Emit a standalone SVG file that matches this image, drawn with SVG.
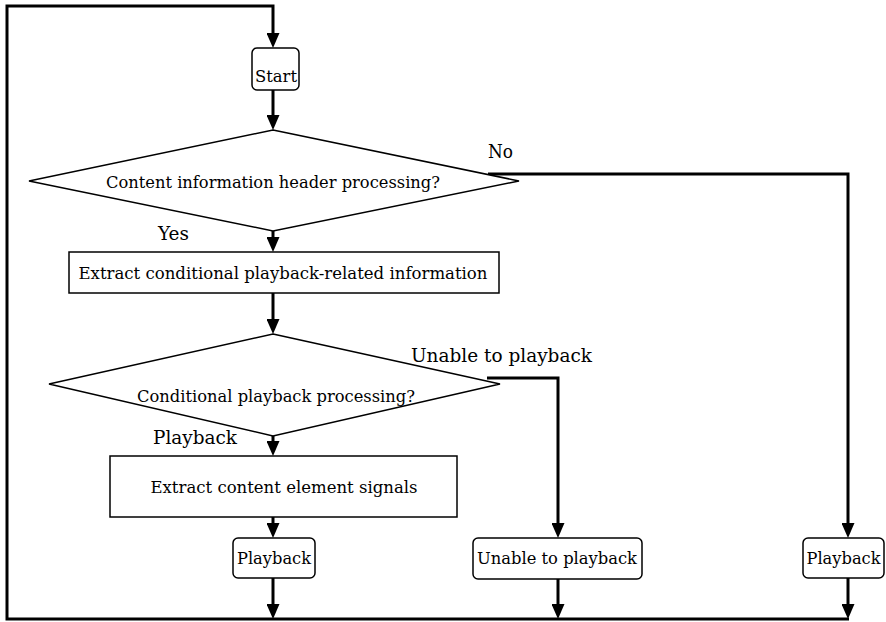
<svg xmlns="http://www.w3.org/2000/svg" width="886" height="622" viewBox="0 0 886 622">
<style>
.shape{fill:#fff;stroke:#000;stroke-width:1.5}
.conn{fill:none;stroke:#000;stroke-width:3}
.t{font-family:"DejaVu Serif","Liberation Serif",serif;font-size:17.5px;fill:#000;text-anchor:middle}
.lbl{font-family:"DejaVu Serif","Liberation Serif",serif;font-size:18.5px;fill:#000}
</style>
<defs>
<marker id="ah" viewBox="0 0 15 13" refX="5" refY="6.5" markerWidth="15" markerHeight="13" markerUnits="userSpaceOnUse" orient="auto">
<path d="M0,0 L15,6.5 L0,13 z" fill="#000"/>
</marker>
</defs>
<rect width="886" height="622" fill="#fff"/>
<g id="connectors">
<path class="conn" d="M849,619 L7,619 L7,6 L273,6 L273,38" marker-end="url(#ah)"/>
<path class="conn" d="M273,90 L273,120" marker-end="url(#ah)"/>
<path class="conn" d="M273,231 L273,242" marker-end="url(#ah)"/>
<path class="conn" d="M273,293 L273,324" marker-end="url(#ah)"/>
<path class="conn" d="M273,436 L273,446" marker-end="url(#ah)"/>
<path class="conn" d="M273,517 L273,528" marker-end="url(#ah)"/>
<path class="conn" d="M488,174 L848,174 L848,528" marker-end="url(#ah)"/>
<path class="conn" d="M487,378 L558,378 L558,528" marker-end="url(#ah)"/>
<path class="conn" d="M273,578 L273,609" marker-end="url(#ah)"/>
<path class="conn" d="M558,579 L558,609" marker-end="url(#ah)"/>
<path class="conn" d="M848,578 L848,609" marker-end="url(#ah)"/>
<text class="lbl" x="488" y="158" textLength="25" lengthAdjust="spacingAndGlyphs">No</text>
<text class="lbl" x="158" y="240" textLength="31" lengthAdjust="spacingAndGlyphs">Yes</text>
<text class="lbl" x="411" y="362" textLength="181" lengthAdjust="spacingAndGlyphs">Unable to playback</text>
<text class="lbl" x="153" y="444" textLength="84" lengthAdjust="spacingAndGlyphs">Playback</text>
</g>
<g id="start">
<rect class="shape" x="252" y="48" width="47" height="42" rx="5"/>
<text class="t" x="276" y="82" textLength="42" lengthAdjust="spacingAndGlyphs">Start</text>
</g>
<g id="decision1">
<polygon class="shape" points="273,130 519,181 273,231 29,181"/>
<text class="t" x="273" y="188" textLength="334" lengthAdjust="spacingAndGlyphs">Content information header processing?</text>
</g>
<g id="extract-info">
<rect class="shape" x="69" y="252" width="430" height="41"/>
<text class="t" x="283" y="279" textLength="409" lengthAdjust="spacingAndGlyphs">Extract conditional playback-related information</text>
</g>
<g id="decision2">
<polygon class="shape" points="273,334 500,384 273,436 49,384"/>
<text class="t" x="276" y="402" textLength="278" lengthAdjust="spacingAndGlyphs">Conditional playback processing?</text>
</g>
<g id="extract-signals">
<rect class="shape" x="110" y="456" width="347" height="61"/>
<text class="t" x="284" y="493" textLength="267" lengthAdjust="spacingAndGlyphs">Extract content element signals</text>
</g>
<g id="playback1">
<rect class="shape" x="233" y="538" width="82" height="40" rx="5"/>
<text class="t" x="274" y="564" textLength="74" lengthAdjust="spacingAndGlyphs">Playback</text>
</g>
<g id="unable">
<rect class="shape" x="473" y="538" width="169" height="41" rx="5"/>
<text class="t" x="557" y="564" textLength="160" lengthAdjust="spacingAndGlyphs">Unable to playback</text>
</g>
<g id="playback2">
<rect class="shape" x="803" y="538" width="81" height="40" rx="5"/>
<text class="t" x="843.5" y="564" textLength="74" lengthAdjust="spacingAndGlyphs">Playback</text>
</g>
</svg>
